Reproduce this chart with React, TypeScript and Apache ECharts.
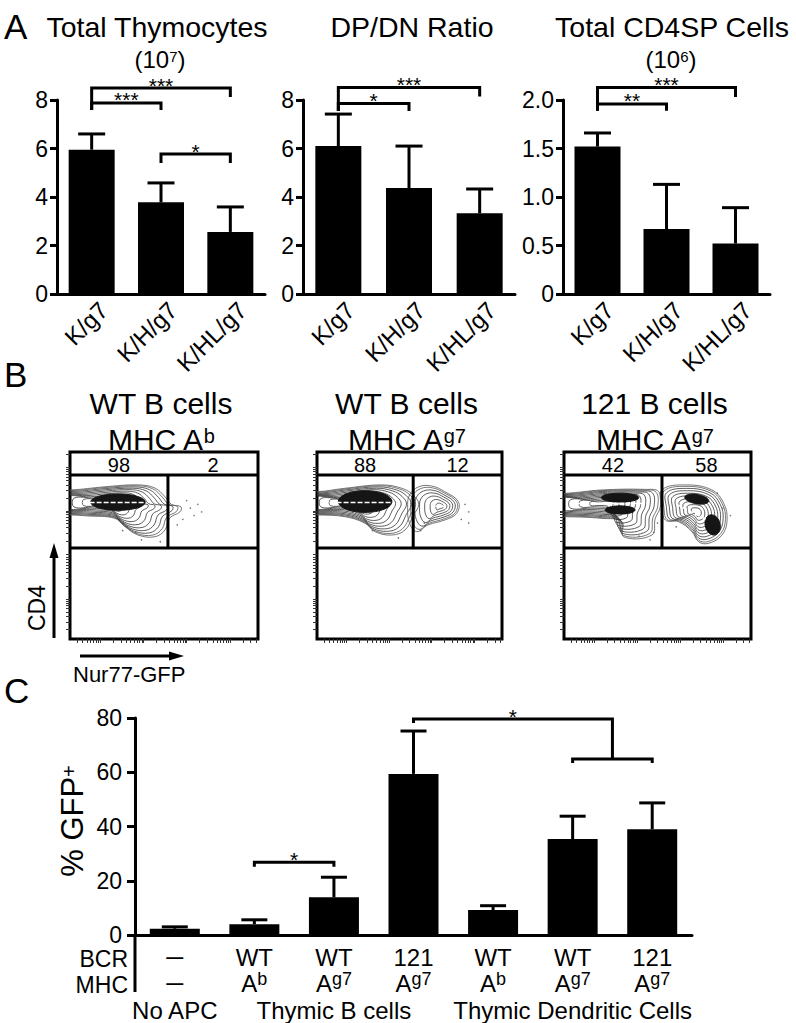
import React, { useEffect, useRef } from "react";
import * as echarts from "echarts";

const FONT = "'Liberation Sans', Arial, Helvetica, sans-serif";
const font = (px: number, weight = "normal") => `${weight} ${px}px ${FONT}`;

// ---------------- Panel A data ----------------
const genotypes = ["K/g7", "K/H/g7", "K/HL/g7"];
const thymocyteMean = [5.95, 3.78, 2.56];
const thymocyteUpper = [6.6, 4.58, 3.59];
const dpdnMean = [6.1, 4.37, 3.33];
const dpdnUpper = [7.42, 6.1, 4.33];
const cd4spMean = [1.52, 0.67, 0.52];
const cd4spUpper = [1.66, 1.13, 0.89];
const panelAMax = [8, 8, 2];
const panelAInterval = [2, 2, 0.5];
// [fromIdx, toIdx, barValue, leftEnd, rightEnd, label]
const thymocyteBrackets: any[] = [
  [0, 2, 8.49, 7.59, 8.12, "***"],
  [0, 1, 7.88, 7.59, 7.59, "***"],
  [1, 2, 5.77, 5.4, 5.4, "*"],
];
const dpdnBrackets: any[] = [
  [0, 2, 8.52, 7.55, 8.14, "***"],
  [0, 1, 7.86, 7.55, 7.55, "*"],
];
const cd4spBrackets: any[] = [
  [0, 2, 2.13, 1.89, 2.03, "***"],
  [0, 1, 1.96, 1.89, 1.89, "**"],
];

// ---------------- Panel B data ----------------
const flowTitles = ["WT B cells", "WT B cells", "121 B cells"];
const flowMhcSup = ["b", "g7", "g7"];
const gateLeftPct = ["98", "88", "42"];
const gateRightPct = ["2", "12", "58"];
const gateDividerX = [52.1, 52, 52.4];
const gateStripY = 87.7;
const gateLowerY = 48.7;
const flowDecadesY = [21.4, 45.5, 68.4, 92];
const flowDecadesX = [16, 39, 62, 85];

const wtAbMain = [[-30, 79.5], [0, 79.7], [18.6, 81.4], [36.3, 82.4], [45.2, 80.7], [50.5, 76.1], [54, 72], [59, 70.7], [58.5, 68], [53, 64.7], [50.5, 58.3], [45.2, 54.7], [36.2, 55.6], [29.3, 60], [23.9, 64.5], [9.6, 65.8], [0, 66.3], [-30, 66.3]];
const wtAg7Main = [[-30, 79], [0, 78.8], [15.1, 80.6], [35, 82.4], [45.8, 80.6], [52, 77], [55, 72], [52, 66], [47.6, 58.3], [40.4, 55.6], [31.4, 57.4], [26, 61.9], [15.1, 65.4], [0, 66.3], [-30, 66.3]];
const wtAg7Second = [[50, 77], [55, 81.4], [62, 81.8], [69, 78.8], [76.4, 73.4], [75.5, 67.2], [69, 63.6], [60, 61], [53.9, 57.4], [50, 62], [49, 70]];
const b121Left = [[-30, 78], [0, 77.9], [20.3, 79.7], [43.5, 80], [50.6, 78.8], [51.5, 70.7], [48.8, 64.5], [47, 55.6], [31.9, 54.7], [31, 62.7], [20.3, 64.5], [0, 65.4], [-30, 65.4]];
const b121Right = [[52.4, 79.7], [64.9, 82.4], [79.1, 79.7], [85.4, 72.6], [87.2, 63.6], [84.5, 55.6], [77.4, 51.2], [72, 52], [68.4, 57.4], [61.3, 62.7], [54.2, 63.6], [52.4, 70.7]];

const flowContours: any[][] = [
  [{ c: [20, 73], n: 11, pts: wtAbMain }],
  [{ c: [20, 73], n: 11, pts: wtAg7Main }, { c: [67, 71], n: 7, pts: wtAg7Second }],
  [{ c: [22, 72.5], n: 11, pts: b121Left }, { c: [71, 68], n: 10, pts: b121Right }],
];
// dense cores: [cx, cy, rx, ry, rotationDeg]
const flowCores: number[][][] = [
  [[25.5, 73.2, 14.5, 4.4, 0]],
  [[26, 73.5, 14.5, 5.8, 0]],
  [[30, 75.6, 10, 2.4, 0], [30, 69, 8, 2.2, 0], [71, 74.8, 6.5, 2.5, -10], [79.5, 61, 4, 5.5, 15]],
];
// white streaks: [x1, y1, x2, y2]
const flowStreaks: number[][][] = [
  [[3, 73, 40, 73]],
  [[3, 73, 40, 73], [64, 71, 69, 71]],
  [[3, 72.5, 45, 72.5], [60, 72, 76, 64]],
];
const flowDots: number[][][] = [
  [[62, 74], [64, 70], [66, 66], [60, 64], [68, 72], [57, 61], [70, 68], [35, 57], [38, 53], [28, 58], [48, 52]],
  [[80, 72], [82, 68], [78, 64], [56, 58], [58, 62], [44, 54], [30, 58], [82, 62]],
  [[46, 53], [48, 57], [60, 60], [82, 78], [85, 70], [50, 62], [40, 55], [89, 66]],
];

// ---------------- Panel C data ----------------
const apcBcr = ["–", "WT", "WT", "121", "WT", "WT", "121"];
const apcMhc = ["–", "A", "A", "A", "A", "A", "A"];
const apcMhcSup = ["", "b", "g7", "g7", "b", "g7", "g7"];
const apcGroups = ["No APC", "Thymic B cells", "Thymic Dendritic Cells"];
const apcGroupSpan = [[0, 0], [1, 3], [4, 6]];
const gfpMean = [2.3, 4.0, 13.9, 59.4, 9.2, 35.4, 39.0];
const gfpUpper = [3.0, 5.6, 21.3, 75.2, 10.8, 43.8, 48.7];
const gfpBrackets: any[] = [[1, 2, 26.8, 25.2, 25.2, "*"]];
const gfpSplitBracket: any[] = [3, 5, 6, 79.6, 78.2, 64.9, 63.4, "*"];

// ---------------- layout ----------------
const aGrids = [
  { left: 57, top: 100, width: 208, height: 194 },
  { left: 303, top: 100, width: 212, height: 194 },
  { left: 563, top: 100, width: 207, height: 194 },
];
const bGrids = [
  { left: 70, top: 452, width: 188, height: 187 },
  { left: 317, top: 452, width: 185, height: 187 },
  { left: 564, top: 452, width: 187, height: 187 },
];
const cGrid = { left: 135, top: 718, width: 557, height: 217 };

function logTicks(decades: number[]) {
  const span = 23.3;
  const out: number[] = [];
  const first = decades[0] - span;
  [first, ...decades].forEach((d) => {
    for (let k = 1; k <= 9; k++) {
      const v = d + Math.log10(k) * span;
      if (v > 0.5 && v < 99.5) out.push(+v.toFixed(2));
    }
  });
  return out;
}

const black = "#000";

function errorRender(capW: number) {
  return (params: any, api: any) => {
    const i = api.value(0);
    const p0 = api.coord([i, api.value(1)]);
    const p1 = api.coord([i, api.value(2)]);
    return {
      type: "group",
      children: [
        { type: "line", shape: { x1: p0[0], y1: p0[1], x2: p1[0], y2: p1[1] }, style: { stroke: black, lineWidth: 3 } },
        { type: "line", shape: { x1: p1[0] - capW / 2, y1: p1[1], x2: p1[0] + capW / 2, y2: p1[1] }, style: { stroke: black, lineWidth: 3 } },
      ],
    };
  };
}

function starText(text: string, x: number, y: number, size = 21, lh = 14) {
  return {
    type: "text",
    style: {
      text, x, y, font: font(size), fill: black, lineHeight: lh,
      textAlign: "center", textVerticalAlign: "middle", align: "center", verticalAlign: "middle",
    },
  };
}

function bracketRender(list: any[]) {
  return (params: any, api: any) => {
    const b = list[params.dataIndex];
    const a = api.coord([b[0], b[2]]);
    const c = api.coord([b[1], b[2]]);
    const ae = api.coord([b[0], b[3]]);
    const ce = api.coord([b[1], b[4]]);
    return {
      type: "group",
      children: [
        { type: "polyline", shape: { points: [ae, a, c, ce] }, style: { stroke: black, lineWidth: 3, fill: "none" } },
        starText(b[5], (a[0] + c[0]) / 2, a[1] - 3),
      ],
    };
  };
}

function ellipsePts(api: any, cx: number, cy: number, rx: number, ry: number, rotDeg: number) {
  const r = (rotDeg * Math.PI) / 180;
  const pts: number[][] = [];
  for (let k = 0; k < 40; k++) {
    const t = (k / 40) * Math.PI * 2;
    const ex = rx * Math.cos(t);
    const ey = ry * Math.sin(t);
    pts.push(api.coord([cx + ex * Math.cos(r) - ey * Math.sin(r), cy + ex * Math.sin(r) + ey * Math.cos(r)]));
  }
  return pts;
}

function buildOption() {
  const xAxis: any[] = [];
  const yAxis: any[] = [];
  const grid: any[] = [];
  const series: any[] = [];

  // ---- Panel A ----
  const aMeans = [thymocyteMean, dpdnMean, cd4spMean];
  const aUppers = [thymocyteUpper, dpdnUpper, cd4spUpper];
  const aBrackets = [thymocyteBrackets, dpdnBrackets, cd4spBrackets];
  aGrids.forEach((g, i) => {
    grid.push({ ...g });
    xAxis.push({
      type: "category", gridIndex: i, data: genotypes,
      axisLine: { lineStyle: { color: black, width: 3 } },
      axisTick: { alignWithLabel: true, length: 7, lineStyle: { color: black, width: 3 } },
      axisLabel: {
        rotate: 45, interval: 0, color: black, fontSize: 24, fontFamily: FONT,
        margin: 0, verticalAlign: "top", lineHeight: 34,
      },
    });
    yAxis.push({
      type: "value", gridIndex: i, min: 0, max: panelAMax[i], interval: panelAInterval[i],
      splitLine: { show: false },
      axisLine: { show: true, lineStyle: { color: black, width: 3 } },
      axisTick: { show: true, length: 7, lineStyle: { color: black, width: 3 } },
      axisLabel: {
        color: black, fontSize: 23, fontFamily: FONT, margin: 9, lineHeight: 20,
        formatter: (v: number) => (i === 2 ? (v === 0 ? "0" : v.toFixed(1)) : String(v)),
      },
    });
    series.push({
      type: "bar", xAxisIndex: i, yAxisIndex: i, data: aMeans[i], barWidth: 46,
      itemStyle: { color: black }, silent: true,
    });
    series.push({
      type: "custom", xAxisIndex: i, yAxisIndex: i,
      data: genotypes.map((_, k) => [k, aMeans[i][k], aUppers[i][k]]),
      renderItem: errorRender(27),
    });
    series.push({
      type: "custom", xAxisIndex: i, yAxisIndex: i, clip: false,
      data: aBrackets[i].map((b: any) => [b[0], b[2]]),
      renderItem: bracketRender(aBrackets[i]),
    });
  });

  // ---- Panel B ----
  bGrids.forEach((g, j) => {
    const gi = 3 + j;
    grid.push({ ...g, show: true, borderColor: black, borderWidth: 3, backgroundColor: "transparent" });
    xAxis.push({
      type: "value", gridIndex: gi, min: 0, max: 100,
      splitLine: { show: false }, axisLabel: { show: false },
      axisLine: { show: false, onZero: false },
      axisTick: { show: true, length: 4, customValues: logTicks(flowDecadesX), lineStyle: { color: "#333", width: 1 } },
    });
    yAxis.push({
      type: "value", gridIndex: gi, min: 0, max: 100,
      splitLine: { show: false }, axisLabel: { show: false },
      axisLine: { show: false, onZero: false },
      axisTick: { show: true, length: 4, customValues: logTicks(flowDecadesY), lineStyle: { color: "#333", width: 1 } },
    });
    const pops = flowContours[j];
    series.push({
      type: "custom", xAxisIndex: gi, yAxisIndex: gi, clip: true,
      data: pops.map((p: any) => p.c),
      renderItem: (params: any, api: any) => {
        const pop = pops[params.dataIndex];
        const children: any[] = [];
        for (let k = 0; k < pop.n; k++) {
          const t = k / (pop.n - 1);
          const s = 1 - 0.85 * Math.pow(t, 1.25);
          const pts = pop.pts.map(([x, y]: number[]) =>
            api.coord([pop.c[0] + (x - pop.c[0]) * s, pop.c[1] + (y - pop.c[1]) * s])
          );
          children.push({
            type: "polygon", shape: { points: pts, smooth: 0.4 },
            style: { fill: "none", stroke: k < 2 ? "#555" : "#333", lineWidth: 0.8 },
          });
        }
        return { type: "group", children };
      },
    });
    const cores = flowCores[j];
    series.push({
      type: "custom", xAxisIndex: gi, yAxisIndex: gi, clip: true,
      data: cores.map((c) => [c[0], c[1]]),
      renderItem: (params: any, api: any) => {
        const c = cores[params.dataIndex];
        return {
          type: "polygon", shape: { points: ellipsePts(api, c[0], c[1], c[2], c[3], c[4]), smooth: 0.3 },
          style: { fill: "#151515", stroke: "#151515", lineWidth: 1 },
        };
      },
    });
    const streaks = flowStreaks[j];
    series.push({
      type: "custom", xAxisIndex: gi, yAxisIndex: gi, clip: true,
      data: streaks.map((s) => [s[0], s[1]]),
      renderItem: (params: any, api: any) => {
        const s = streaks[params.dataIndex];
        const a = api.coord([s[0], s[1]]);
        const b = api.coord([s[2], s[3]]);
        return {
          type: "line", shape: { x1: a[0], y1: a[1], x2: b[0], y2: b[1] },
          style: { stroke: "#fff", lineWidth: 1.6, lineDash: [5, 2] },
        };
      },
    });
    series.push({
      type: "scatter", xAxisIndex: gi, yAxisIndex: gi, data: flowDots[j],
      symbolSize: 1.6, itemStyle: { color: "#555" }, silent: true,
    });
    const dx = gateDividerX[j];
    const segs = [
      [0, gateStripY, 100, gateStripY],
      [0, gateLowerY, 100, gateLowerY],
      [dx, gateLowerY, dx, gateStripY],
    ];
    series.push({
      type: "custom", xAxisIndex: gi, yAxisIndex: gi, clip: false,
      data: segs.map((s) => [s[0], s[1]]),
      renderItem: (params: any, api: any) => {
        const s = segs[params.dataIndex];
        const a = api.coord([s[0], s[1]]);
        const b = api.coord([s[2], s[3]]);
        return { type: "line", shape: { x1: a[0], y1: a[1], x2: b[0], y2: b[1] }, style: { stroke: black, lineWidth: 3 } };
      },
    });
    const labelY = (100 + gateStripY) / 2;
    const labels = [
      [dx / 2, labelY, gateLeftPct[j]],
      [(dx + 100) / 2, labelY, gateRightPct[j]],
    ];
    series.push({
      type: "custom", xAxisIndex: gi, yAxisIndex: gi, clip: false,
      data: labels.map((l) => [l[0], l[1]]),
      renderItem: (params: any, api: any) => {
        const l = labels[params.dataIndex];
        const p = api.coord([l[0], l[1]]);
        return starText(String(l[2]), p[0], p[1] + 1, 20, 18);
      },
    });
  });

  // ---- Panel C ----
  grid.push({ ...cGrid });
  xAxis.push({
    type: "category", gridIndex: 6, data: apcBcr.map((_, i) => String(i)),
    axisLine: { lineStyle: { color: black, width: 3 } },
    axisTick: { alignWithLabel: true, length: 7, lineStyle: { color: black, width: 3 } },
    axisLabel: {
      interval: 0, margin: 9, color: black, fontFamily: FONT,
      formatter: (_v: string, i: number) =>
        apcBcr[i] === "–"
          ? `{d|—}\n{d|—}`
          : `{b|${apcBcr[i]}}\n{b|${apcMhc[i]}}{s|${apcMhcSup[i]}}`,
      rich: {
        b: { fontSize: 24, lineHeight: 26, fontFamily: FONT, color: black },
        s: { fontSize: 18, lineHeight: 4, verticalAlign: "top", fontFamily: FONT, color: black },
        d: { fontSize: 17, lineHeight: 26, fontWeight: "bold", fontFamily: FONT, color: black },
      },
    },
  });
  yAxis.push({
    type: "value", gridIndex: 6, min: 0, max: 80, interval: 20,
    splitLine: { show: false },
    axisLine: { show: true, lineStyle: { color: black, width: 3 } },
    axisTick: { show: true, length: 8, lineStyle: { color: black, width: 3 } },
    axisLabel: { color: black, fontSize: 23, fontFamily: FONT, margin: 13, lineHeight: 18 },
  });
  series.push({
    type: "bar", xAxisIndex: 6, yAxisIndex: 6, data: gfpMean, barWidth: 50,
    itemStyle: { color: black }, silent: true,
  });
  series.push({
    type: "custom", xAxisIndex: 6, yAxisIndex: 6,
    data: gfpMean.map((m, k) => [k, m, gfpUpper[k]]),
    renderItem: errorRender(26),
  });
  series.push({
    type: "custom", xAxisIndex: 6, yAxisIndex: 6, clip: false,
    data: gfpBrackets.map((b: any) => [b[0], b[2]]),
    renderItem: bracketRender(gfpBrackets),
  });
  series.push({
    type: "custom", xAxisIndex: 6, yAxisIndex: 6, clip: false,
    data: [[gfpSplitBracket[0], gfpSplitBracket[3]]],
    renderItem: (params: any, api: any) => {
      const [from, pa, pb, top, leftEnd, lower, lowerEnd, label] = gfpSplitBracket;
      const l0 = api.coord([from, leftEnd]);
      const l1 = api.coord([from, top]);
      const ca = api.coord([pa, lower]);
      const cb = api.coord([pb, lower]);
      const ea = api.coord([pa, lowerEnd]);
      const eb = api.coord([pb, lowerEnd]);
      const sx = (ca[0] + cb[0]) / 2;
      const st = [sx, l1[1]];
      const sl = [sx, ca[1]];
      return {
        type: "group",
        children: [
          { type: "polyline", shape: { points: [l0, l1, st, sl] }, style: { stroke: black, lineWidth: 3, fill: "none" } },
          { type: "polyline", shape: { points: [ea, ca, cb, eb] }, style: { stroke: black, lineWidth: 3, fill: "none" } },
          starText(label, (l1[0] + sx) / 2, l1[1] - 3),
        ],
      };
    },
  });

  // ---- graphic (titles, arrows, row headers) ----
  const txt = (text: string, x: number, y: number, size: number, align = "center", extra: any = {}, lh?: number) => ({
    type: "text", x, y, ...extra,
    style: {
      text, font: font(size), fill: black, lineHeight: lh ?? size,
      textAlign: align, textVerticalAlign: "middle", align, verticalAlign: "middle",
    },
  });
  const rich = (text: string, x: number, y: number, size: number, supSize: number, extra: any = {}) => ({
    type: "text", x, y, ...extra,
    style: {
      text, fill: black, font: font(size),
      textAlign: "center", textVerticalAlign: "middle", align: "center", verticalAlign: "middle",
      rich: {
        a: { fontSize: size, fontFamily: FONT, fill: black, color: black, lineHeight: size - 4 },
        s: { fontSize: supSize, fontFamily: FONT, fill: black, color: black, verticalAlign: "top", lineHeight: 3 },
      },
    },
  });
  const graphic: any[] = [];
  graphic.push(txt("A", 4, 26, 35, "left"));
  graphic.push(txt("B", 4, 374, 35, "left"));
  graphic.push(txt("C", 4, 690, 35, "left"));

  graphic.push(txt("Total Thymocytes", 157, 27, 28.5));
  graphic.push(rich("{a|(10}{s|7}{a|)}", 160, 59, 24, 15));
  graphic.push(txt("DP/DN Ratio", 412, 27, 28.5));
  graphic.push(txt("Total CD4SP Cells", 672, 27, 28.5));
  graphic.push(rich("{a|(10}{s|6}{a|)}", 671, 59, 24, 15));

  bGrids.forEach((g, j) => {
    const cx = g.left + g.width / 2 - 3;
    graphic.push(txt(flowTitles[j], cx, 403, 30));
    graphic.push(rich(`{a|MHC A}{s|${flowMhcSup[j]}}`, cx, 439, 30, 20));
  });
  // axes arrows
  graphic.push({ type: "line", shape: { x1: 54, y1: 638, x2: 54, y2: 552 }, style: { stroke: black, lineWidth: 3 } });
  graphic.push({ type: "polygon", shape: { points: [[54, 543], [49.5, 558], [58.5, 558]] }, style: { fill: black } });
  graphic.push(txt("CD4", 37, 608, 23, "center", { rotation: Math.PI / 2 }));
  graphic.push({ type: "line", shape: { x1: 80, y1: 656, x2: 174, y2: 656 }, style: { stroke: black, lineWidth: 3 } });
  graphic.push({ type: "polygon", shape: { points: [[184, 656], [169, 651.5], [169, 660.5]] }, style: { fill: black } });
  graphic.push(txt("Nur77-GFP", 73, 674, 22, "left"));

  // Panel C extras
  graphic.push({ type: "line", shape: { x1: 135, y1: 934, x2: 135, y2: 992 }, style: { stroke: black, lineWidth: 3 } });
  graphic.push(rich("{a|% GFP}{s|+}", 72, 821, 31, 20, { rotation: Math.PI / 2 }));
  graphic.push(txt("BCR", 128, 959, 23, "right", {}, 18));
  graphic.push(txt("MHC", 128, 985, 23, "right", {}, 18));
  const cw = cGrid.width / apcBcr.length;
  apcGroups.forEach((name, k) => {
    const [s, e] = apcGroupSpan[k];
    const cx = cGrid.left + ((s + e) / 2 + 0.5) * cw;
    graphic.push(txt(name, cx, 1010, 24));
  });

  return {
    animation: false,
    backgroundColor: "#fff",
    textStyle: { fontFamily: FONT, color: black },
    grid, xAxis, yAxis, series, graphic,
  };
}

export default function App() {
  const ref = useRef<HTMLDivElement>(null);
  useEffect(() => {
    if (!ref.current) return;
    const chart = echarts.init(ref.current, undefined, { renderer: "svg" });
    chart.setOption(buildOption() as any);
    return () => chart.dispose();
  }, []);
  return (
    <div
      ref={ref}
      style={{ position: "absolute", left: 0, top: 0, width: 796, height: 1023, background: "#fff" }}
    />
  );
}
